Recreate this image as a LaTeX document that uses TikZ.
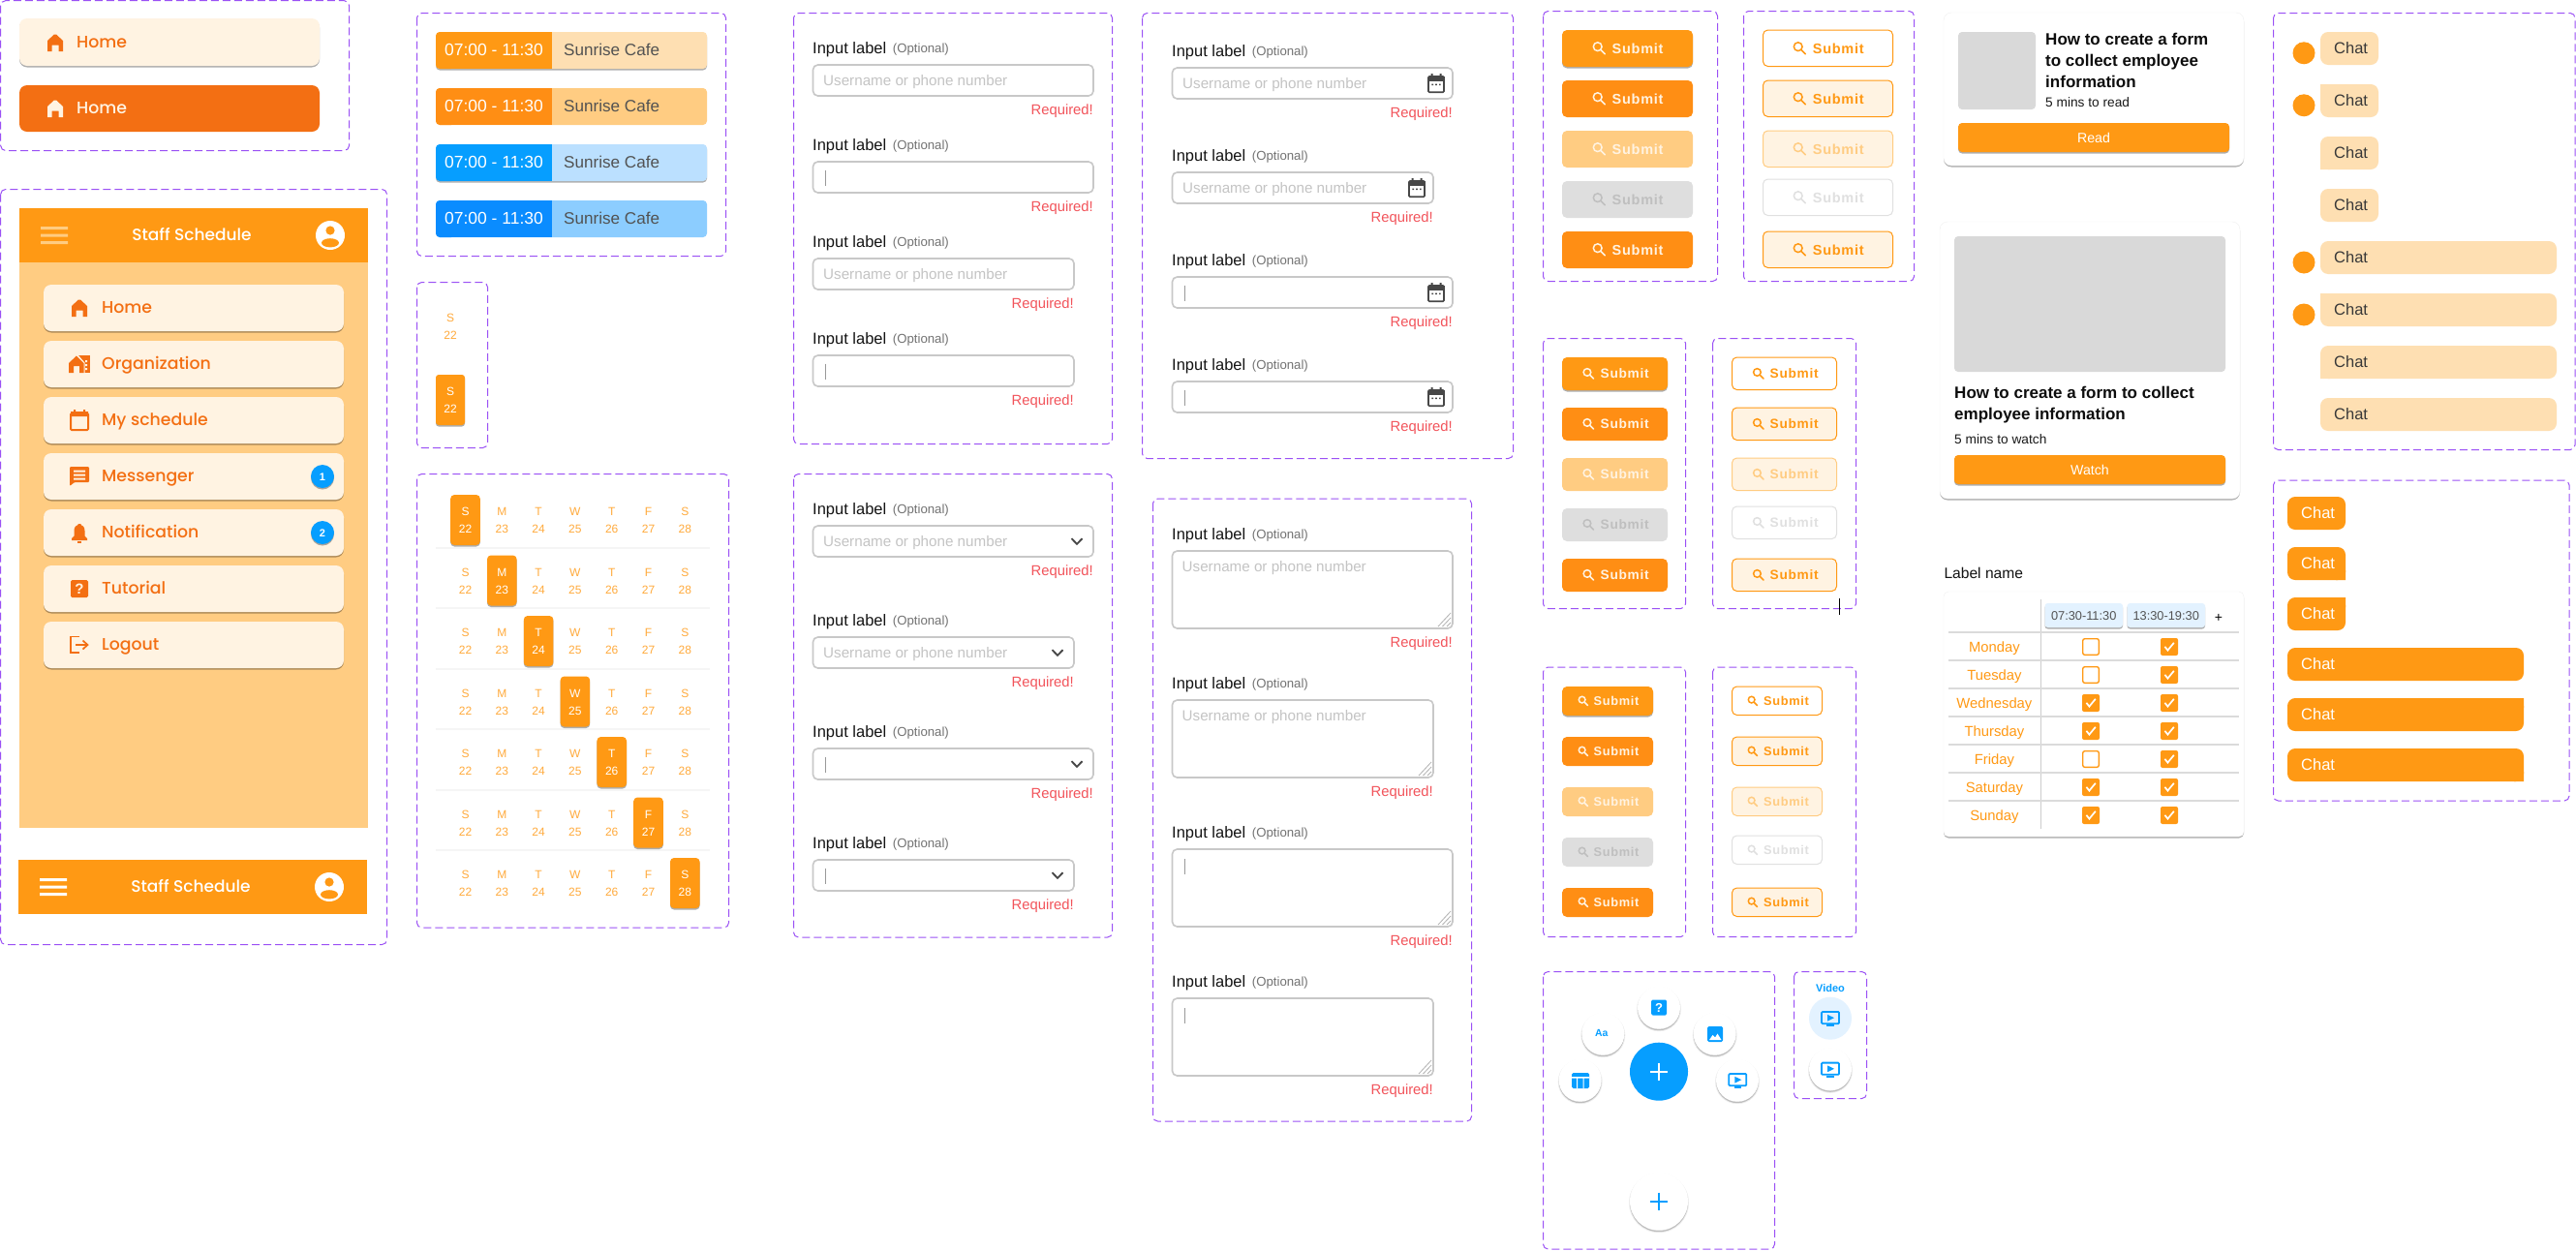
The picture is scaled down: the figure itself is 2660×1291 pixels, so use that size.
\documentclass[tikz,border=0pt]{standalone}
\usepackage{fontspec}
\setmainfont{Liberation Sans}
\newfontfamily\navfont{Poppins Medium}
\newfontfamily\subfont[LetterSpace=5]{Liberation Sans}
\usetikzlibrary{positioning}

\definecolor{framepurple}{HTML}{9B51F5}
\definecolor{brandorange}{HTML}{FF9914}
\definecolor{pressorange}{HTML}{FF8E14}
\definecolor{softorange}{HTML}{FFCC82}
\definecolor{paleorange}{HTML}{FEDFB2}
\definecolor{creamorange}{HTML}{FFF3E2}
\definecolor{navorange}{HTML}{F36F13}
\definecolor{calorange}{HTML}{FFAA3C}
\definecolor{brandblue}{HTML}{069EFF}
\definecolor{pressblue}{HTML}{0A8CFF}
\definecolor{softblue}{HTML}{BBE0FF}
\definecolor{midblue}{HTML}{8CCDFF}
\definecolor{paleblue}{HTML}{E3F2FF}
\definecolor{fieldgrey}{HTML}{C8C8C8}
\definecolor{holdergrey}{HTML}{C4C4C4}
\definecolor{greygrey}{HTML}{DEDEDE}
\definecolor{thumbgrey}{HTML}{D9D9D9}
\definecolor{errorred}{HTML}{F2545B}

\newcommand{\fs}[1]{\fontsize{#1}{#1}\selectfont}

\tikzset{
  frame/.style={draw=framepurple,line width=1pt,dash pattern=on 8pt off 4pt,rounded corners=5pt},
  softshadow/.style={preaction={fill=black,fill opacity=.32,transform canvas={yshift=-1.5pt}}},
  noshadow/.style={},
  roundshadow/.style={preaction={draw=black,draw opacity=.07,line width=2pt,fill=black,fill opacity=.2,transform canvas={yshift=-1.5pt}}},
  fz/.style 2 args={yshift={(1-.24*#2)*1pt},font=#1\fs{#2}},
  txt/.style={inner sep=0pt,anchor=mid},
  txtl/.style={inner sep=0pt,anchor=mid west},
  txtr/.style={inner sep=0pt,anchor=mid east},
  navtext/.style={txtl,text=navorange,fz={\navfont}{17.3}},
  titletext/.style={txt,text=white,fz={\navfont}{17}},
  shifttime/.style={txt,text=white,fz={}{17.5}},
  shiftplace/.style={txtl,text=black!68,fz={}{17.1}},
  labeltext/.style={txtl,text=black!92,fz={}{16.5}},
  optionaltext/.style={txtl,text=black!55,fz={}{13.2}},
  holdertext/.style={txtl,text=holdergrey,fz={}{15.2}},
  requiredtext/.style={txtr,text=errorred,fz={}{14.8}},
  fieldbox/.style={draw=fieldgrey,line width=1.6pt,rounded corners=5pt,fill=white},
  cursorline/.style={draw=black!40,line width=.8pt},
  chattext/.style={txtl,fz={}{16.5}},
  daytext/.style={txt,text=brandorange,fz={}{14.8}},
  calday/.style={txt,fz={}{12}},
  cardtitle/.style={txtl,text=black!95,fz={\bfseries}{17}},
  cardsub/.style={txtl,text=black!90,fz={}{13.7}},
  fabcircle/.style={fill=white,roundshadow},
  pics/homeicon/.style={code={
    \fill[#1] (-8,9) -- (-8,-2) -- (-1,-8.5) -- (1,-8.5) -- (8,-2) -- (8,9) -- (3.5,9) -- (3.5,2.5) -- (-3.5,2.5) -- (-3.5,9) -- cycle;}},
  pics/searchicon/.style={code={
    \draw[#1,line width=1.5pt] (-1.8,-1.8) circle (4.4);
    \draw[#1,line width=1.7pt,line cap=round] (1.5,1.5) -- (5.8,5.8);}},
  pics/dateicon/.style={code={
    \draw[black!72,line width=1.6pt,rounded corners=1pt] (-8,-7) rectangle (8,9.2);
    \fill[black!72] (-8.5,-7.5) rectangle (8.5,-2);
    \fill[black!72] (-5.5,-10) rectangle (-3.5,-6) (3.5,-10) rectangle (5.5,-6);
    \fill[black!72] (-4.6,0.6) rectangle (-3,2.2) (-.8,0.6) rectangle (.8,2.2) (3,0.6) rectangle (4.6,2.2);}},
  pics/chevronicon/.style={code={
    \draw[black!72,line width=1.8pt] (-5.5,-2.8) -- (0,2.8) -- (5.5,-2.8);}},
  pics/videoicon/.style={code={
    \draw[#1,line width=1.8pt,rounded corners=1pt] (-9,-7) rectangle (9,5.2);
    \fill[#1] (-3,-4.2) -- (4,-.8) -- (-3,2.6) -- cycle;
    \fill[#1] (-3.6,6) rectangle (3.6,8);}},
  pics/plusicon/.style={code={
    \draw[#1,line width=2.3pt] (-9,0) -- (9,0) (0,-9) -- (0,9);}},
  pics/profileicon/.style={code={
    \fill[white] (0,0) circle (15);
    \fill[brandorange] (0,-5) circle (4.6);
    \fill[brandorange] (0,7.8) ellipse (9 and 4.6);}},
  pics/checkicon/.style={code={
    \draw[#1,line width=1.7pt] (-4.6,-.2) -- (-1.6,3.6) -- (4.8,-4.2);}}
}

\newcommand{\fieldlabel}[3]{%
  \node[labeltext] (#1lab) at (#2,#3) {Input label};
  \node[optionaltext] (#1opt) at (#2+82.7,#3) {(Optional)};}
\newcommand{\fieldrequired}[3]{%
  \node[requiredtext] (#1req) at (#2,#3) {Required!};}
\newcommand{\fieldholder}[3]{%
  \node[holdertext] (#1hold) at (#2,#3) {Username or phone number};}

\begin{document}
\begin{tikzpicture}[x=1pt,y=-1pt]
\useasboundingbox (0,0) rectangle (2660,1291);
\fill[white] (0,0) rectangle (2660,1291);

% Frames
\foreach \xa/\ya/\xb/\yb in {0.7/0.7/360.5/155.5, 0.7/195.5/399.5/975.5, 430.5/13.5/749.5/264.5,
  430.5/291.5/503.5/462.5, 430.5/489.5/752.5/958, 819.5/13.5/1148.5/458.5, 819.5/489.5/1148.5/968,
  1179.5/13.5/1562.5/473.5, 1190.5/515/1519.5/1158, 1593.5/11.5/1773.5/290.5, 1800.5/11.5/1976.5/290.5,
  1593.5/349.5/1740.5/628.5, 1768.5/349.5/1916.5/628.5, 1593.5/689/1740.5/967.5, 1768.5/689/1916.5/967.5,
  1593.5/1003.5/1832.5/1290, 1852.5/1003.5/1927.5/1134.5, 2347.5/13.5/2659/464.5, 2347.5/496/2653/827}
  \draw[frame] (\xa,\ya) rectangle (\xb,\yb);

% Home buttons
\fill[creamorange,softshadow,rounded corners=8pt] (20,19) rectangle (330,68);
\pic at (57,44) {homeicon=navorange};
\node[navtext] (homeone) at (79,44) {Home};
\fill[navorange,rounded corners=8pt] (20,88) rectangle (330,136);
\pic at (57,112) {homeicon=creamorange};
\node[navtext,text=creamorange] (hometwo) at (79,112) {Home};

% Side menu
\fill[softorange] (20,271) rectangle (380,855);
\fill[brandorange] (20,215) rectangle (380,271);
\fill[softorange] (42,234) rectangle (70,237) (42,241.5) rectangle (70,244.5) (42,249) rectangle (70,252);
\node[titletext] (menutitle) at (198,243) {Staff Schedule};
\pic at (341,243) {profileicon};
\foreach \yc/\nm/\lab in {318/home/Home, 376/org/Organization, 434/sched/My schedule, 492/msg/Messenger, 550/note/Notification, 608/tut/Tutorial, 666/out/Logout} {
  \fill[creamorange,softshadow,rounded corners=8pt] (45,\yc-24) rectangle (355,\yc+24);
  \node[navtext] (item\nm) at (105,\yc) {\lab};
}
% Menu icons
\pic at (82,318) {homeicon=navorange};
\fill[navorange] (81,367) rectangle (93,385);
\fill[creamorange] (81,367) -- (87.5,374.5) -- (87.5,385) -- (81,385) -- cycle;
\fill[navorange] (71,385) -- (71,375) -- (79,367.5) -- (86.5,375) -- (86.5,385) -- (82,385) -- (82,378) -- (76,378) -- (76,385) -- cycle;
\fill[creamorange] (88,372) rectangle (90,374) (88,376) rectangle (90,378) (88,380) rectangle (90,382);
\draw[navorange,line width=2pt,rounded corners=1pt] (73,427) rectangle (91,444);
\fill[navorange] (73,425) rectangle (91,430) (76,423) rectangle (78,427) (86,423) rectangle (88,427);
\fill[navorange,rounded corners=1pt] (72,482) -- (92,482) -- (92,498) -- (77,498) -- (72,502) -- cycle;
\fill[creamorange] (76,485.5) rectangle (88,487.5) (76,489.5) rectangle (88,491.5) (76,493.5) rectangle (88,495.5);
\fill[navorange] (74,558) -- (74,556) -- (76.5,553.5) -- (76.5,548) .. controls (76.5,544) and (79,542.5) .. (80.5,542) -- (80.5,541) -- (83.5,541) -- (83.5,542) .. controls (85,542.5) and (87.5,544) .. (87.5,548) -- (87.5,553.5) -- (90,556) -- (90,558) -- cycle;
\fill[navorange] (80,559) rectangle (84,560.5);
\fill[navorange,rounded corners=1.5pt] (73,599) rectangle (91,617);
\node[txt,text=creamorange,fz={\bfseries}{15}] (tutmark) at (82,608) {?};
\draw[navorange,line width=1.7pt] (82,657.5) -- (73,657.5) -- (73,674) -- (82,674);
\draw[navorange,line width=1.7pt] (78,666) -- (90,666) (85.5,661.5) -- (90.5,666) -- (85.5,670.5);
% Badges
\fill[brandblue,softshadow] (333,492) circle (12);
\node[txt,text=white,fz={\bfseries}{11}] (badgeone) at (333,492) {1};
\fill[brandblue,softshadow] (333,550) circle (12);
\node[txt,text=white,fz={\bfseries}{11}] (badgetwo) at (333,550) {2};

% Bottom bar
\fill[brandorange] (19,888) rectangle (379,944);
\fill[white] (41,907) rectangle (69,910) (41,914.5) rectangle (69,917.5) (41,922) rectangle (69,925);
\node[titletext] (bartitle) at (197,916) {Staff Schedule};
\pic at (340,916) {profileicon};

% Shift rows
\foreach \yt/\lc/\rc/\sty in {33/brandorange/paleorange/softshadow, 91/pressorange/softorange/noshadow, 149/brandblue/softblue/softshadow, 207/pressblue/midblue/noshadow} {
  \fill[fill=\rc,\sty,rounded corners=4pt] (450,\yt) rectangle (730,\yt+38);
  \fill[fill=\lc,rounded corners=4pt] (450,\yt) rectangle (470,\yt+38);
  \fill[fill=\lc] (460,\yt) rectangle (570,\yt+38);
  \node[shifttime] (time\yt) at (510,\yt+19) {07:00 - 11:30};
  \node[shiftplace] (place\yt) at (582,\yt+19) {Sunrise Cafe};
}

% Single day
\node[calday,text=calorange] (dayletter) at (465,328) {S};
\node[calday,text=calorange] (daynumber) at (465,346) {22};
\fill[brandorange,softshadow,rounded corners=3pt] (450,387) rectangle (480,439);
\node[calday,text=white] (selletter) at (465,404) {S};
\node[calday,text=white] (selnumber) at (465,422) {22};

% Calendar
\foreach \r in {0,...,5}
  \draw[black!4,line width=2pt] (450,565.7+62.5*\r) -- (733,565.7+62.5*\r);
\foreach \r in {0,...,6} {
  \foreach \c/\lt/\nr in {0/S/22,1/M/23,2/T/24,3/W/25,4/T/26,5/F/27,6/S/28} {
    \pgfmathsetmacro{\xc}{480.5+37.8*\c}
    \pgfmathsetmacro{\yc}{528+62.5*\r}
    \ifnum\r=\c
      \fill[brandorange,softshadow,rounded corners=4pt] (\xc-15.3,\yc-17) rectangle (\xc+15.3,\yc+35);
      \def\calcol{white}
    \else
      \def\calcol{calorange}
    \fi
    \node[calday,text=\calcol] (cal\r\c l) at (\xc,\yc) {\lt};
    \node[calday,text=\calcol] (cal\r\c n) at (\xc,\yc+18) {\nr};
  }
}

% Plain inputs
\foreach \i/\yl/\xr/\kind in {0/50/1129/0, 1/150/1129/1, 2/250/1109/0, 3/350/1109/1} {
  \fieldlabel{pa\i}{839}{\yl}
  \draw[fieldbox] (839.5,\yl+17) rectangle (\xr,\yl+49);
  \ifnum\kind=0
    \fieldholder{pa\i}{850}{\yl+33}
  \else
    \draw[cursorline] (852.5,\yl+25.5) -- (852.5,\yl+42);
  \fi
  \fieldrequired{pa\i}{\xr}{\yl+63}
}

% Date inputs
\foreach \i/\yl/\xr/\kind in {0/53/1500/0, 1/161/1480/0, 2/269/1500/1, 3/377/1500/1} {
  \fieldlabel{da\i}{1210}{\yl}
  \draw[fieldbox] (1210.5,\yl+17) rectangle (\xr,\yl+49);
  \ifnum\kind=0
    \fieldholder{da\i}{1221}{\yl+33}
  \else
    \draw[cursorline] (1223.5,\yl+25.5) -- (1223.5,\yl+42);
  \fi
  \pic at (\xr-17,\yl+33) {dateicon};
  \fieldrequired{da\i}{\xr}{\yl+63}
}

% Select inputs
\foreach \i/\yl/\xr/\kind in {0/526/1129/0, 1/641/1109/0, 2/756/1129/1, 3/871/1109/1} {
  \fieldlabel{se\i}{839}{\yl}
  \draw[fieldbox] (839.5,\yl+17) rectangle (\xr,\yl+49);
  \ifnum\kind=0
    \fieldholder{se\i}{850}{\yl+33}
  \else
    \draw[cursorline] (852.5,\yl+25.5) -- (852.5,\yl+42);
  \fi
  \pic at (\xr-17,\yl+33) {chevronicon};
  \fieldrequired{se\i}{\xr}{\yl+63}
}

% Text areas
\foreach \i/\yl/\xr/\kind in {0/552/1500/0, 1/706/1480/0, 2/860/1500/1, 3/1014/1480/1} {
  \fieldlabel{ta\i}{1210}{\yl}
  \draw[fieldbox] (1210.5,\yl+17) rectangle (\xr,\yl+97);
  \ifnum\kind=0
    \fieldholder{ta\i}{1220.5}{\yl+33}
  \else
    \draw[cursorline] (1223.5,\yl+27) -- (1223.5,\yl+43);
  \fi
  \draw[black!30,line width=.8pt] (\xr-15,\yl+95) -- (\xr-2,\yl+81) (\xr-10.5,\yl+95) -- (\xr-2,\yl+86) (\xr-6,\yl+95) -- (\xr-2,\yl+91);
  \fieldrequired{ta\i}{\xr}{\yl+111}
}

% Filled buttons, large
\foreach \yt/\bg/\fg/\sty in {31/brandorange/creamorange/softshadow, 83/pressorange/creamorange/noshadow, 135/softorange/creamorange/noshadow, 187/greygrey/black!25/noshadow, 239/pressorange/creamorange/noshadow} {
  \fill[fill=\bg,\sty,rounded corners=5pt] (1613,\yt) rectangle (1748,\yt+38);
  \pic at (1651.5,\yt+19) {searchicon=\fg};
  \node[txtl,text=\fg,fz={\subfont\bfseries}{14.5}] (fbig\yt) at (1664.5,\yt+19) {Submit};
}
% Outline buttons, large
\foreach \yt/\bg/\ln/\fg in {31/white/brandorange/brandorange, 83/creamorange/brandorange/brandorange, 135/creamorange/softorange/softorange, 185/white/black!12/black!12, 239/creamorange/brandorange/brandorange} {
  \draw[fill=\bg,draw=\ln,line width=1pt,rounded corners=5pt] (1820.5,\yt) rectangle (1954.5,\yt+37.5);
  \pic at (1858.5,\yt+19) {searchicon=\fg};
  \node[txtl,text=\fg,fz={\subfont\bfseries}{14.5}] (obig\yt) at (1871.7,\yt+19) {Submit};
}
% Filled buttons, medium
\foreach \yt/\bg/\fg/\sty in {369/brandorange/creamorange/softshadow, 421/pressorange/creamorange/noshadow, 473/softorange/creamorange/noshadow, 525/greygrey/black!25/noshadow, 577/pressorange/creamorange/noshadow} {
  \fill[fill=\bg,\sty,rounded corners=5pt] (1613,\yt) rectangle (1722,\yt+34);
  \pic[scale=.87] at (1640.5,\yt+17) {searchicon=\fg};
  \node[txtl,text=\fg,fz={\subfont\bfseries}{13.7}] (fmid\yt) at (1652.5,\yt+17) {Submit};
}
% Outline buttons, medium
\foreach \yt/\bg/\ln/\fg in {369/white/brandorange/brandorange, 421/creamorange/brandorange/brandorange, 473/creamorange/softorange/softorange, 523/white/black!12/black!12, 577/creamorange/brandorange/brandorange} {
  \draw[fill=\bg,draw=\ln,line width=1pt,rounded corners=5pt] (1788.5,\yt) rectangle (1896.5,\yt+33.5);
  \pic[scale=.87] at (1816,\yt+17) {searchicon=\fg};
  \node[txtl,text=\fg,fz={\subfont\bfseries}{13.7}] (omid\yt) at (1827.5,\yt+17) {Submit};
}
\draw[black,line width=1pt] (1899.3,618.4) -- (1899.3,634.7);
% Filled buttons, small
\foreach \yt/\bg/\fg/\sty in {709/brandorange/creamorange/softshadow, 761/pressorange/creamorange/noshadow, 813/softorange/creamorange/noshadow, 865/greygrey/black!25/noshadow, 917/pressorange/creamorange/noshadow} {
  \fill[fill=\bg,\sty,rounded corners=5pt] (1613,\yt) rectangle (1707,\yt+30);
  \pic[scale=.76] at (1635,\yt+15) {searchicon=\fg};
  \node[txtl,text=\fg,fz={\subfont\bfseries}{12.8}] (fsml\yt) at (1645.5,\yt+15) {Submit};
}
% Outline buttons, small
\foreach \yt/\bg/\ln/\fg in {709/white/brandorange/brandorange, 761/creamorange/brandorange/brandorange, 813/creamorange/softorange/softorange, 863/white/black!12/black!12, 917/creamorange/brandorange/brandorange} {
  \draw[fill=\bg,draw=\ln,line width=1pt,rounded corners=5pt] (1788.5,\yt) rectangle (1881.5,\yt+29.5);
  \pic[scale=.76] at (1810,\yt+15) {searchicon=\fg};
  \node[txtl,text=\fg,fz={\subfont\bfseries}{12.8}] (osml\yt) at (1821,\yt+15) {Submit};
}

% Action circles
\fill[fabcircle] (1631.7,1115.7) circle (22);
\fill[fabcircle] (1655.3,1067.7) circle (22);
\fill[fabcircle] (1713,1040.7) circle (22);
\fill[fabcircle] (1770.7,1067.7) circle (22);
\fill[fabcircle] (1794,1115.7) circle (22);
\fill[brandblue] (1713,1106.7) circle (30);
\pic at (1713,1106.7) {plusicon=white};
\fill[fabcircle] (1713,1240.7) circle (30);
\pic at (1713,1240.7) {plusicon=brandblue};
% Table icon
\fill[brandblue,rounded corners=1.5pt] (1623,1108) rectangle (1641,1124);
\fill[white] (1623,1112) rectangle (1641,1113.5) (1628,1113.5) rectangle (1629.2,1124) (1634.5,1113.5) rectangle (1635.7,1124);
\node[txt,text=brandblue,fz={\bfseries}{10.4}] (aatext) at (1653.7,1066.5) {Aa};
\fill[brandblue,rounded corners=1.5pt] (1705,1032.5) rectangle (1721,1048.5);
\node[txt,text=white,fz={\bfseries}{13}] (askmark) at (1713,1040.5) {?};
% Picture icon
\fill[brandblue,rounded corners=1.5pt] (1763,1060) rectangle (1779,1076);
\fill[white] (1765,1074) -- (1768.5,1069) -- (1771,1071.5) -- (1773.5,1067.5) -- (1777.5,1074) -- cycle;
\pic at (1794.3,1116) {videoicon=brandblue};
\node[txt,text=brandblue,fz={\bfseries}{11}] (videotext) at (1890,1020) {Video};
\fill[paleblue] (1890,1051.7) circle (22);
\pic at (1890,1052) {videoicon=brandblue};
\fill[fabcircle] (1890,1104.3) circle (22);
\pic at (1890,1104.6) {videoicon=brandblue};

% Article cards
\fill[white,softshadow,rounded corners=8pt] (2007,13) rectangle (2317,171);
\draw[black!6,rounded corners=8pt] (2007,13) rectangle (2317,171);
\fill[thumbgrey,rounded corners=4pt] (2022,33) rectangle (2102,113);
\node[cardtitle] (readone) at (2112,40.6) {How to create a form};
\node[cardtitle] (readtwo) at (2112,62.5) {to collect employee};
\node[cardtitle] (readthree) at (2112,84.5) {information};
\node[cardsub] (readtime) at (2112,106) {5 mins to read};
\fill[brandorange,softshadow,rounded corners=4pt] (2022,127) rectangle (2302,157);
\node[txt,text=white,fz={}{14.2}] (readbtn) at (2162,142) {Read};

\fill[white,softshadow,rounded corners=8pt] (2003,229) rectangle (2313,515);
\draw[black!6,rounded corners=8pt] (2003,229) rectangle (2313,515);
\fill[thumbgrey,rounded corners=4pt] (2018,244) rectangle (2298,384);
\node[cardtitle] (watchone) at (2018,405.5) {How to create a form to collect};
\node[cardtitle] (watchtwo) at (2018,427.5) {employee information};
\node[cardsub] (watchtime) at (2018,454) {5 mins to watch};
\fill[brandorange,softshadow,rounded corners=4pt] (2018,470) rectangle (2298,500);
\node[txt,text=white,fz={}{14.2}] (watchbtn) at (2158,485) {Watch};

% Incoming chat bubbles
\foreach \yt/\xr in {33/2456, 87/2456, 141/2456, 195/2456, 249/2640, 303/2640, 357/2640, 411/2640} {
  \fill[paleorange,rounded corners=8pt] (2396,\yt) rectangle (\xr,\yt+34);
  \node[chattext,text=black!78] (inchat\yt) at (2410,\yt+17) {Chat};
}
\fill[paleorange] (2396,87) rectangle (2406,97) (2396,303) rectangle (2406,313);
\fill[paleorange] (2396,165) rectangle (2406,175) (2396,381) rectangle (2406,391);
\foreach \yc in {54.8,108.8,271,325}
  \fill[brandorange] (2379,\yc) circle (11.5);

% Outgoing chat bubbles
\foreach \yt/\xr in {513/2422, 565/2422, 617/2422, 669/2606, 721/2606, 773/2606} {
  \fill[brandorange,rounded corners=8pt] (2362,\yt) rectangle (\xr,\yt+34);
  \node[chattext,text=white] (outchat\yt) at (2376,\yt+17) {Chat};
}
\fill[brandorange] (2412,589) rectangle (2422,599) (2412,617) rectangle (2422,627);
\fill[brandorange] (2596,721) rectangle (2606,731) (2596,797) rectangle (2606,807);

% Schedule table
\node[txtl,text=black!92,fz={}{15.6}] (tablelabel) at (2007.3,592) {Label name};
\fill[white,softshadow,rounded corners=5pt] (2007,611) rectangle (2317,864);
\draw[black!6,rounded corners=5pt] (2007,611) rectangle (2317,864);
\draw[black!20,line width=1pt] (2107,619) -- (2107,856);
\foreach \yl in {653,682,711,740,769,798,827}
  \draw[black!14,line width=1.8pt] (2012,\yl) -- (2312,\yl);
\fill[paleblue,softshadow,rounded corners=3pt] (2111.5,623) rectangle (2192,648);
\node[txt,text=black!68,fz={}{12.8}] (chipam) at (2151.7,636) {07:30-11:30};
\fill[paleblue,softshadow,rounded corners=3pt] (2196.5,623) rectangle (2277,648);
\node[txt,text=black!68,fz={}{12.8}] (chippm) at (2236.7,636) {13:30-19:30};
\node[txt,text=black,fz={}{14}] (addslot) at (2291,637) {+};
\foreach \yc/\dn/\am in {668/Monday/0, 697/Tuesday/0, 726/Wednesday/1, 755/Thursday/1, 784/Friday/0, 813/Saturday/1, 842/Sunday/1} {
  \node[daytext] (day\dn) at (2059.4,\yc) {\dn};
  \ifnum\am=1
    \fill[brandorange,rounded corners=2pt] (2150,\yc-9) rectangle (2168,\yc+9);
    \pic at (2159,\yc) {checkicon=white};
  \else
    \draw[brandorange,fill=white,line width=1.4pt,rounded corners=2pt] (2150.7,\yc-8.3) rectangle (2167.3,\yc+8.3);
  \fi
  \fill[brandorange,rounded corners=2pt] (2231,\yc-9) rectangle (2249,\yc+9);
  \pic at (2240,\yc) {checkicon=white};
}

\end{tikzpicture}
\end{document}
